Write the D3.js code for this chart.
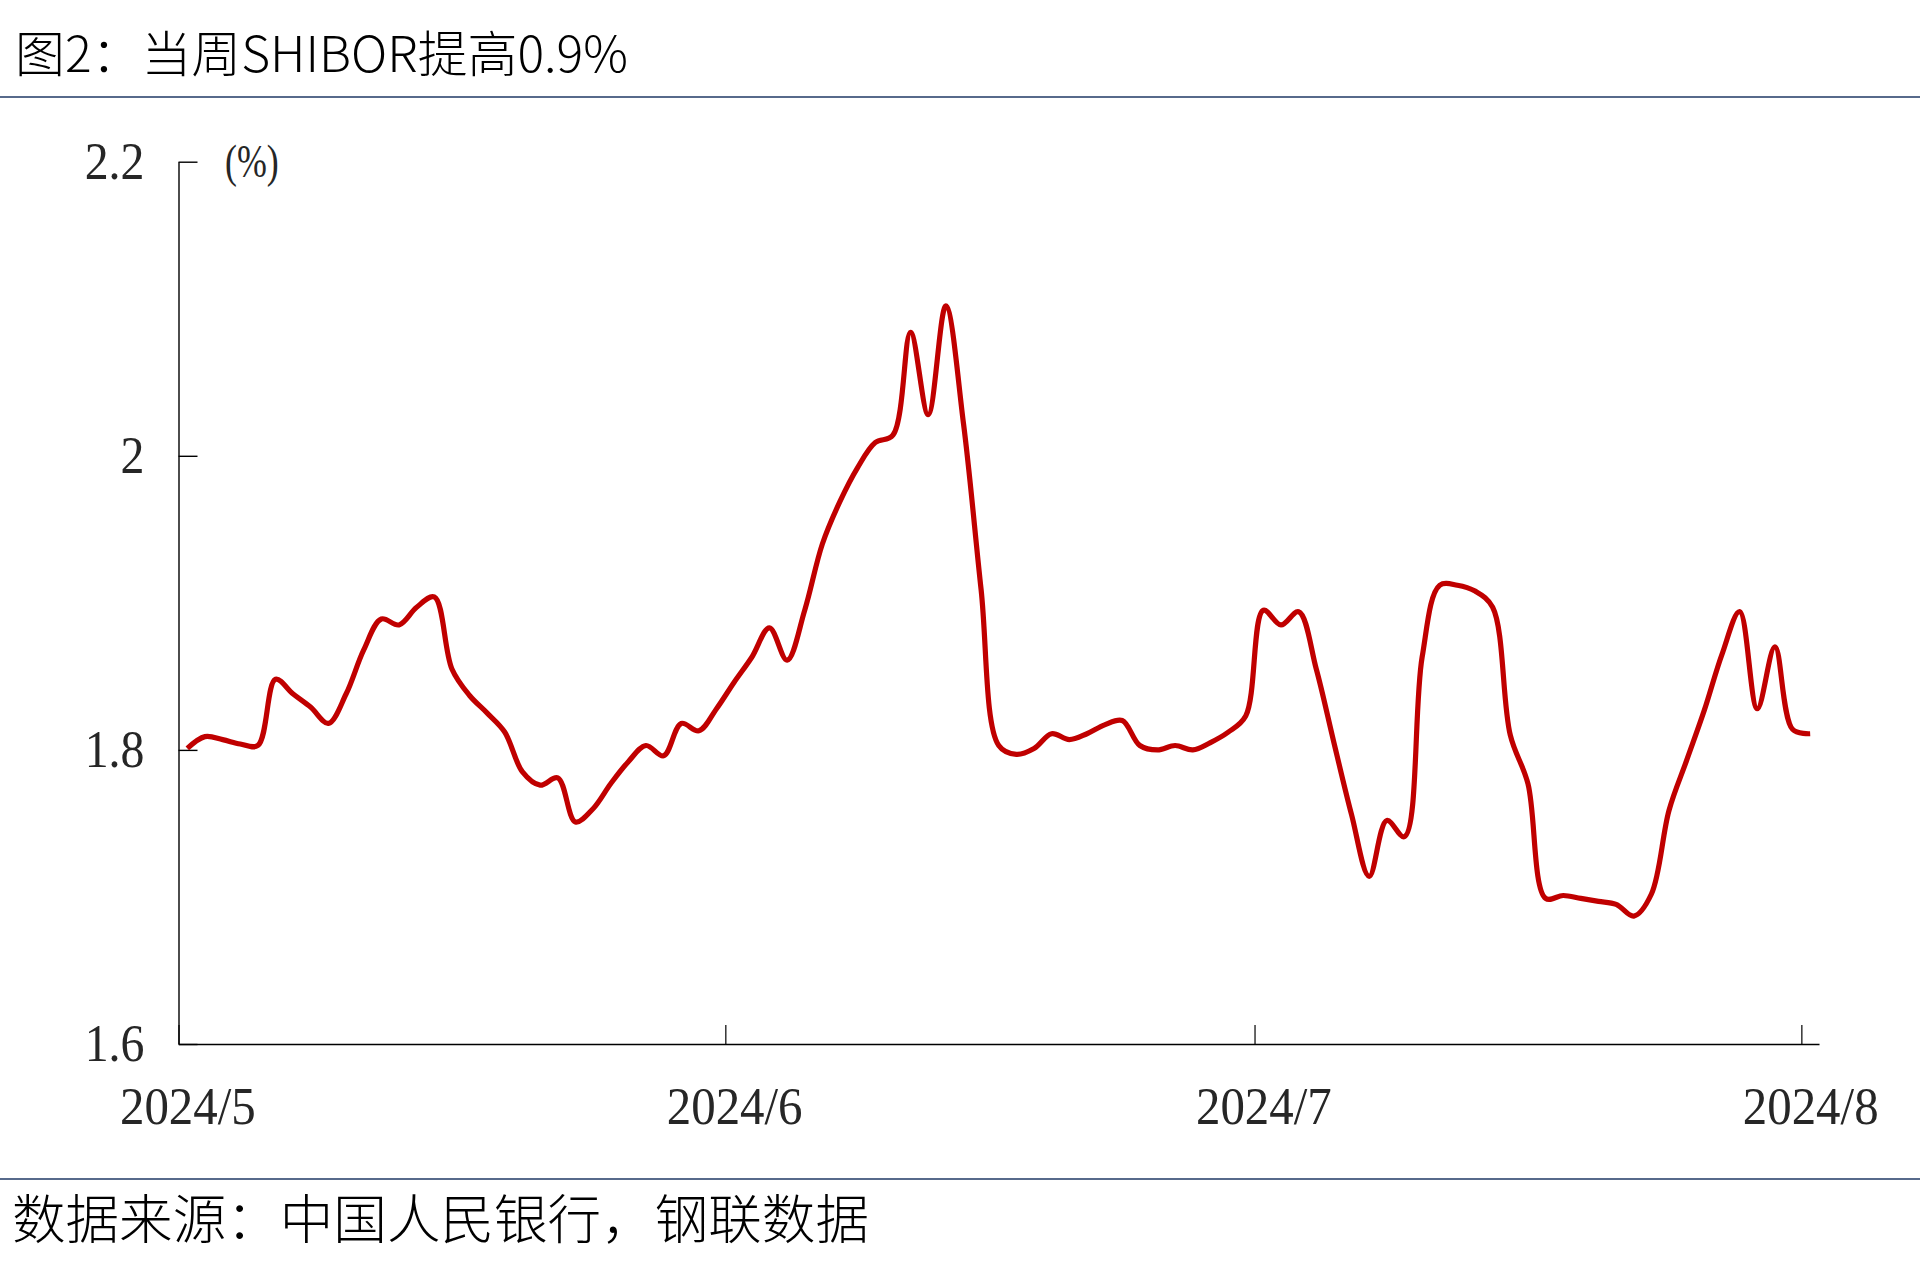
<!DOCTYPE html>
<html>
<head>
<meta charset="utf-8">
<script src="https://cdn.jsdelivr.net/npm/d3@7"></script>
<style>
html,body{margin:0;padding:0;background:#fff;}
svg{display:block;}
</style>
</head>
<body>
<svg id="chart" width="1920" height="1279"></svg>
<script>
// ---------------- data ----------------
const titleText = "图2：当周SHIBOR提高0.9%";
const sourceText = "数据来源：中国人民银行，钢联数据";
const unitText = "(%)";
const startDate = "2024-05-01";   // first daily observation
const endDate = "2024-08-01";     // last daily observation
const shiborValues = [
  1.801,1.809,1.807,1.804,1.803,1.848,1.838,1.829,1.818,1.838,
  1.868,1.889,1.885,1.897,1.904,1.855,1.837,1.825,1.812,1.785,
  1.776,1.781,1.751,1.760,1.777,1.792,1.803,1.796,1.818,1.813,
  1.828,1.846,1.863,1.883,1.861,1.895,1.940,1.969,1.992,2.009,
  2.014,2.084,2.028,2.102,2.022,1.909,1.803,1.797,1.801,1.811,
  1.807,1.811,1.817,1.820,1.803,1.800,1.803,1.800,1.805,1.812,
  1.823,1.895,1.885,1.894,1.855,1.805,1.756,1.714,1.752,1.741,
  1.863,1.912,1.912,1.908,1.897,1.810,1.777,1.699,1.701,1.699,
  1.697,1.695,1.687,1.702,1.759,1.793,1.827,1.865,1.894,1.828,
  1.870,1.814,1.811
];
const yTickValues = [1.6, 1.8, 2.0, 2.2];
const yTickLabels = ["1.6", "1.8", "2", "2.2"];
const xTickDates = ["2024-05-01", "2024-06-01", "2024-07-01", "2024-08-01"];
const xTickLabels = ["2024/5", "2024/6", "2024/7", "2024/8"];

(function () {
// ---------------- build ----------------
const parse = d3.timeParse("%Y-%m-%d");
const days = d3.timeDay.range(parse(startDate), d3.timeDay.offset(parse(endDate), 1));
const data = days.map((d, i) => ({date: d, value: shiborValues[i]}));

const svg = d3.select("#chart");
const pLeft = 178.5, pRight = 1819, pTop = 161.7, pBottom = 1044;

const x = d3.scaleTime()
  .domain([parse("2024-05-01"), parse("2024-08-02")])
  .range([pLeft, pRight]);
const y = d3.scaleLinear().domain([1.6, 2.2]).range([pBottom, pTop]);
const halfDay = x(d3.timeHour.offset(parse("2024-05-01"), 12)) - x(parse("2024-05-01"));

function condense(sel, f) {
  sel.each(function () {
    const w = this.getComputedTextLength();
    d3.select(this).attr("textLength", w * f).attr("lengthAdjust", "spacingAndGlyphs");
  });
}

// title & separators
svg.append("text")
  .attr("x", 15).attr("y", 50)
  .attr("dominant-baseline", "central")
  .style("font-family", "'Noto Sans CJK SC'")
  .style("font-size", "49px")
  .style("font-weight", 300)
  .attr("fill", "#000")
  .attr("textLength", 613).attr("lengthAdjust", "spacingAndGlyphs")
  .text(titleText);

svg.append("line").attr("x1", 0).attr("x2", 1920).attr("y1", 97).attr("y2", 97)
  .attr("stroke", "#1F3864").attr("stroke-width", 1.5);
svg.append("line").attr("x1", 0).attr("x2", 1920).attr("y1", 1179).attr("y2", 1179)
  .attr("stroke", "#1F3864").attr("stroke-width", 1.5);

svg.append("text")
  .attr("x", 12).attr("y", 1216)
  .attr("dominant-baseline", "central")
  .style("font-family", "'Noto Sans CJK SC'")
  .style("font-size", "53px")
  .style("font-weight", 300)
  .attr("fill", "#000")
  .attr("textLength", 857).attr("lengthAdjust", "spacingAndGlyphs")
  .text(sourceText);

// y axis
const yAxis = d3.axisLeft(y)
  .tickValues(yTickValues)
  .tickFormat((d, i) => yTickLabels[i])
  .tickSizeInner(-19).tickSizeOuter(0).tickPadding(34);
const gy = svg.append("g").attr("transform", `translate(${pLeft},0)`).call(yAxis);
gy.select(".domain").attr("stroke", "#000").attr("stroke-width", 1.4);
gy.selectAll(".tick line").attr("stroke", "#000").attr("stroke-width", 1.4);
gy.selectAll(".tick text")
  .style("font-family", "'Liberation Serif', 'Times New Roman', serif")
  .style("font-size", "52px")
  .attr("fill", "#262626");
condense(gy.selectAll(".tick text"), 0.92);

// x axis
const xAxis = d3.axisBottom(x)
  .tickValues(xTickDates.map(parse))
  .tickFormat((d, i) => xTickLabels[i])
  .tickSizeInner(-19).tickSizeOuter(0);
const gx = svg.append("g").attr("transform", `translate(0,${pBottom})`).call(xAxis);
gx.select(".domain").attr("stroke", "#000").attr("stroke-width", 1.4);
gx.selectAll(".tick line").attr("stroke", "#000").attr("stroke-width", 1.2);
gx.selectAll(".tick text")
  .attr("y", 80).attr("dy", null).attr("x", halfDay)
  .style("font-family", "'Liberation Serif', 'Times New Roman', serif")
  .style("font-size", "52px")
  .attr("fill", "#262626");
condense(gx.selectAll(".tick text"), 0.94);

// unit label
const unit = svg.append("text")
  .attr("x", 225).attr("y", 177)
  .style("font-family", "'Liberation Serif', 'Times New Roman', serif")
  .style("font-size", "46px")
  .attr("fill", "#262626")
  .text(unitText);
condense(unit, 0.78);

// line
const line = d3.line()
  .x(d => x(d3.timeHour.offset(d.date, 12)))
  .y(d => y(d.value))
  .curve(d3.curveCatmullRom.alpha(0.5));

svg.append("path")
  .datum(data)
  .attr("fill", "none")
  .attr("stroke", "#C00000")
  .attr("stroke-width", 5.2)
  .attr("stroke-linejoin", "round")
  .attr("d", line);
})();
</script>
</body>
</html>
